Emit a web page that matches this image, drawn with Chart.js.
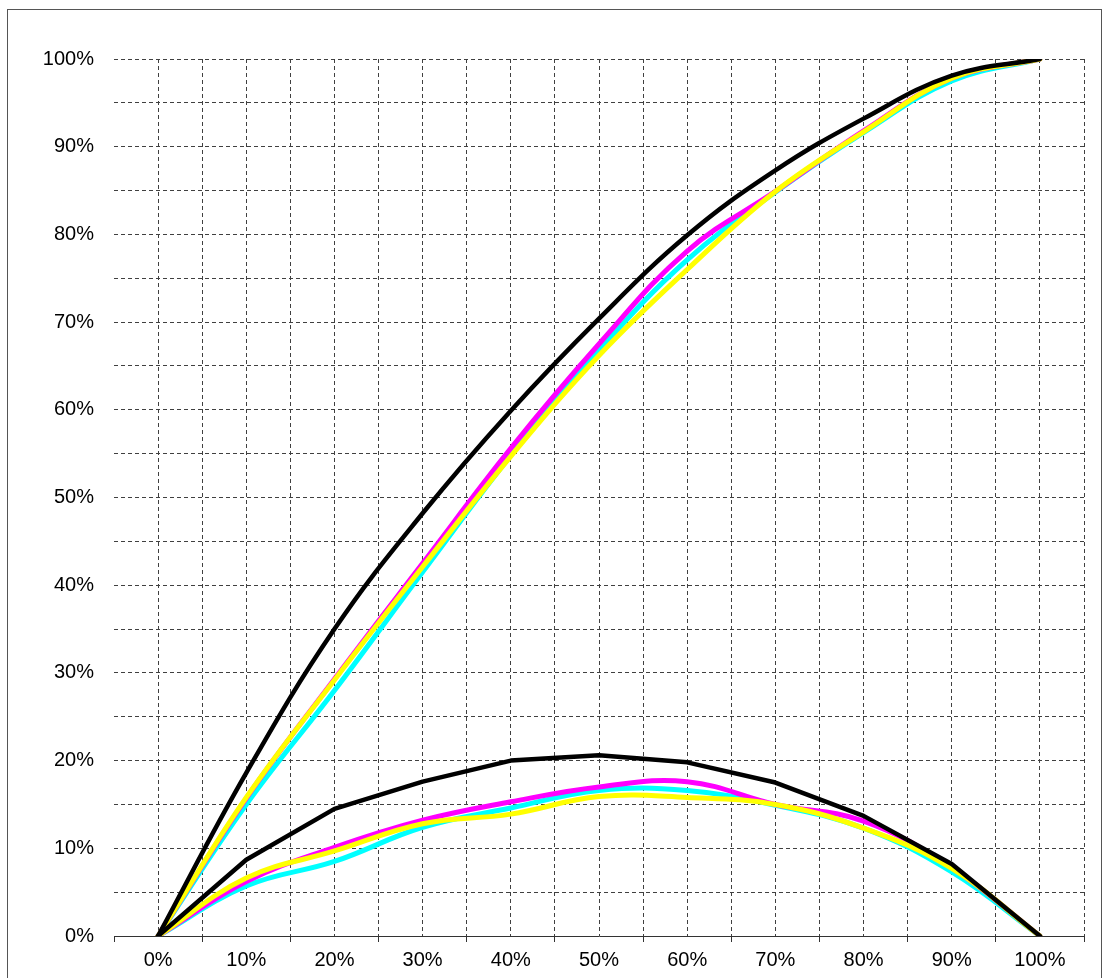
<!DOCTYPE html>
<html>
<head>
<meta charset="utf-8">
<script src="https://cdn.jsdelivr.net/npm/chart.js@4/dist/chart.umd.min.js"></script>
<style>
  html, body { margin: 0; padding: 0; background: #fff; }
  #frame {
    position: absolute; left: 7px; top: 9px; width: 1093px; height: 990px;
    border: 1px solid #555;
  }
  #chart { position: absolute; left: 0; top: 0; }
</style>
</head>
<body>
<div id="frame"></div>
<canvas id="chart" width="1102" height="978"></canvas>
<script>
// x positions (%)
const steps = [0, 10, 20, 30, 40, 50, 60, 70, 80, 90, 100];

// upper curves
const upperBlack   = [0, 18.6, 35.0, 48.2, 59.9, 70.4, 79.9, 87.3, 93.2, 98.1, 100];
const upperMagenta = [0, 15.7, 29.3, 42.5, 55.6, 67.5, 78.1, 84.9, 91.8, 97.8, 100];
const upperCyan    = [0, 15.0, 28.0, 41.5, 54.8, 66.8, 77.1, 84.8, 91.6, 97.5, 100];
const upperYellow  = [0, 15.8, 29.2, 42.1, 54.7, 66.2, 76.0, 84.9, 91.7, 97.8, 100];

// lower curves
const lowerBlack   = [0, 8.7, 14.5, 17.6, 20.0, 20.6, 19.8, 17.5, 13.7, 8.2, 0];
const lowerMagenta = [0, 6.2, 10.1, 13.2, 15.3, 17.0, 17.6, 15.0, 13.1, 7.8, 0];
const lowerCyan    = [0, 5.7, 8.5, 12.4, 14.6, 16.6, 16.6, 14.9, 12.3, 7.3, 0];
const lowerYellow  = [0, 6.6, 9.7, 12.8, 13.9, 15.9, 15.8, 15.0, 12.3, 7.7, 0];

const BLACK = "#000000", MAGENTA = "#FF00FF", CYAN = "#00FFFF", YELLOW = "#FFFF00";

function pts(ys) {
  return steps.map((x, i) => ({ x: x, y: ys[i] }));
}

function line(ys, color, width, tension, order) {
  return {
    data: pts(ys),
    borderColor: color,
    borderWidth: width,
    tension: tension,
    pointRadius: 0,
    fill: false,
    order: order,
    borderCapStyle: "round",
    borderJoinStyle: "round"
  };
}

const GRID = "#404040";
const FONT = { family: "'Liberation Sans', Arial, sans-serif", size: 20 };

new Chart(document.getElementById("chart"), {
  type: "line",
  data: {
    datasets: [
      line(upperCyan, CYAN, 5, 0.4, 3),
      line(upperMagenta, MAGENTA, 5, 0.4, 2),
      line(upperYellow, YELLOW, 5, 0.4, 1),
      line(upperBlack, BLACK, 4.5, 0.4, 0),
      line(lowerCyan, CYAN, 5, 0.4, 3),
      line(lowerMagenta, MAGENTA, 5, 0.4, 2),
      line(lowerYellow, YELLOW, 5, 0.4, 1),
      line(lowerBlack, BLACK, 4.5, 0, 0)
    ]
  },
  options: {
    responsive: false,
    animation: false,
    devicePixelRatio: 1,
    layout: { padding: { left: 0, right: 18, top: 59, bottom: 0 } },
    plugins: { legend: { display: false }, tooltip: { enabled: false } },
    scales: {
      x: {
        type: "linear",
        min: -5,
        max: 105,
        afterFit: s => { s.height = 42; },
        ticks: {
          stepSize: 5,
          autoSkip: false,
          maxRotation: 0,
          minRotation: 0,
          padding: 6,
          color: "#000",
          font: FONT,
          callback: v => (v % 10 === 0 && v >= 0 && v <= 100) ? v + "%" : ""
        },
        grid: {
          color: ctx => (ctx.tick && ctx.tick.value > -5) ? GRID : "rgba(0,0,0,0)",
          lineWidth: 1,
          drawTicks: true,
          tickLength: 6,
          tickBorderDash: [],
          tickColor: ctx => (ctx.tick && Math.abs(ctx.tick.value % 10) === 5) ? "#333" : "rgba(0,0,0,0)"
        },
        border: { display: true, color: "#333", width: 1, dash: [4, 3] }
      },
      y: {
        min: 0,
        max: 100,
        afterFit: s => { s.width = 114; },
        ticks: {
          stepSize: 5,
          padding: 20,
          color: "#000",
          font: FONT,
          callback: v => v % 10 === 0 ? v + "%" : ""
        },
        grid: {
          color: ctx => (ctx.tick && ctx.tick.value > 0) ? GRID : "rgba(0,0,0,0)",
          lineWidth: 1,
          drawTicks: false
        },
        border: { display: false, dash: [4, 3] }
      }
    }
  }
});
</script>
</body>
</html>
